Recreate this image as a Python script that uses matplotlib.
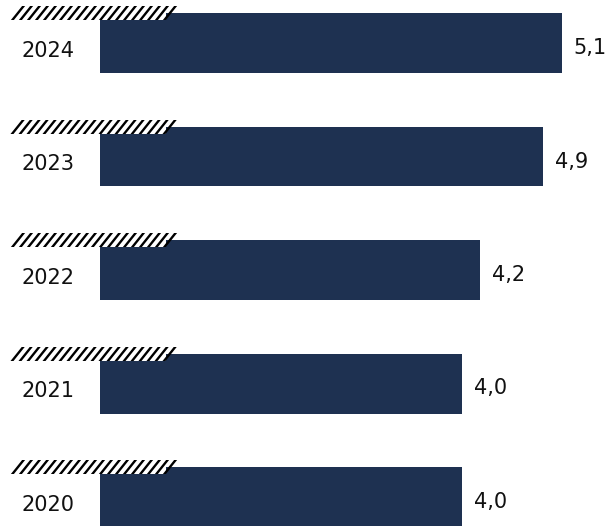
import numpy as np
import matplotlib
matplotlib.use('Agg')
import matplotlib.pyplot as plt
from matplotlib.patches import Rectangle

# ================================ data ================================
years = ['2024', '2023', '2022', '2021', '2020']
values = [5.1, 4.9, 4.2, 4.0, 4.0]
value_labels = ['5,1', '4,9', '4,2', '4,0', '4,0']

# ================================ style ===============================
bar_color = '#1e3151'
px_x = 1 / 90.5      # data units per pixel, x
px_y = 1 / 113.5     # data units per pixel, y (one bar slot = 113.5 px)
bar_h = 60 * px_y

plt.rcParams['font.family'] = ['DejaVu Sans']

fig = plt.figure(figsize=(6.10, 5.26), dpi=100)
ax = fig.add_axes([0, 0, 1, 1])
ax.set_xlim(-100 * px_x, 510 * px_x)
ax.set_ylim(483 * px_y, -43 * px_y)
ax.axis('off')

pos = np.arange(len(years))
ax.barh(pos, values, height=bar_h, color=bar_color, zorder=1)

for i, (yr, v, lab) in enumerate(zip(years, values, value_labels)):
    top = i - bar_h / 2

    # white strip with diagonal stripes sitting on the bar's top-left corner
    y_bot = top + 7 * px_y
    y_top = top - 7 * px_y
    x_l = -88 * px_x
    ax.add_patch(Rectangle((x_l, y_top), 154 * px_x, y_bot - y_top,
                           facecolor='white', edgecolor='none', zorder=2))
    clip = Rectangle((x_l - 5 * px_x, y_top), 180 * px_x, y_bot - y_top,
                     transform=ax.transData, facecolor='none', edgecolor='none')
    ax.add_patch(clip)
    for k in range(20):
        x0 = x_l + 1 * px_x + k * 8 * px_x
        ln, = ax.plot([x0 - 3 * px_x, x0 + 13 * px_x],
                      [y_bot + 3 * px_y, y_top - 3 * px_y],
                      color='black', lw=1.7, solid_capstyle='butt', zorder=3)
        ln.set_clip_path(clip)

    # year label on the left and value at the end of the bar
    ax.text(-78 * px_x, i + 8 * px_y, yr, ha='left', va='center',
            fontsize=15, color='#111111', zorder=4)
    ax.text(v + 12 * px_x, i + 5 * px_y, lab, ha='left', va='center',
            fontsize=15, color='#111111', zorder=4)

plt.savefig('out.png', dpi=100)
